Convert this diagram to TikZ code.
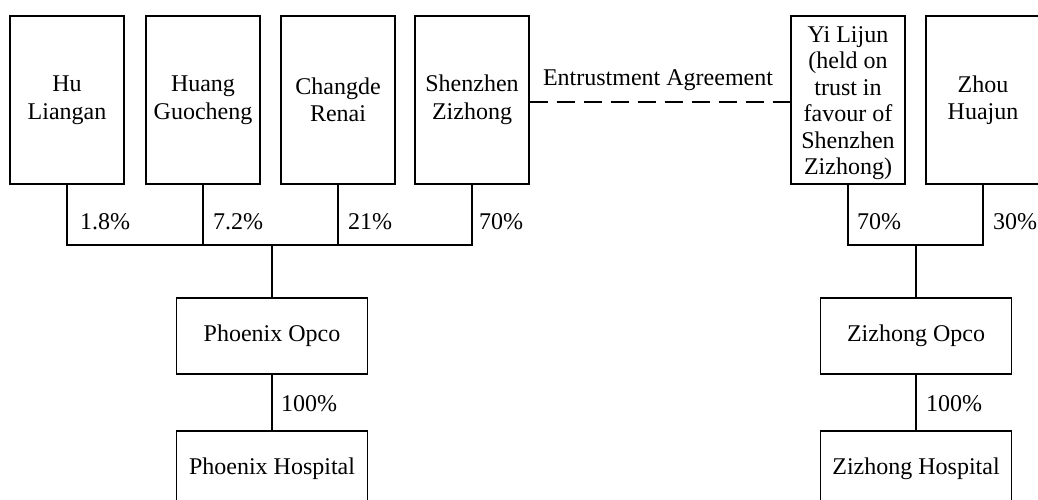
\documentclass[tikz,border=0pt]{standalone}
\usepackage{fontspec}
\setmainfont{Liberation Serif}
\begin{document}
\begin{tikzpicture}[x=1pt,y=1pt,
  every node/.style={font=\fontsize{24pt}{27.5pt}\selectfont},
  topbox/.style={draw, line width=1.1pt, minimum width=114pt, minimum height=168pt, align=center, inner sep=0pt},
  lowbox/.style={draw, line width=1.1pt, minimum width=191pt, minimum height=76pt, align=center, inner sep=0pt},
  link/.style={line width=1.1pt},
  pct/.style={anchor=west, inner sep=0pt}]
\useasboundingbox (0,0) rectangle (1038,-499);
% top boxes
\node[topbox] (hu) at (67,-100) {Hu\\Liangan};
\node[topbox] (hg) at (203,-100) {Huang\\Guocheng};
\node[topbox] (cr) at (338,-100) {Changde\\Renai};
\node[topbox] (sz) at (472,-100) {Shenzhen\\Zizhong};
\node[topbox] (yi) at (848,-100) {};
\node[align=center, font=\fontsize{24pt}{26.5pt}\selectfont, inner sep=0pt] (yitext) at (848,-103) {Yi Lijun\\(held on\\trust in\\favour of\\Shenzhen\\Zizhong)};
\node[topbox] (zh) at (983,-100) {Zhou\\Huajun};
% lower boxes
\node[lowbox] (po) at (272,-336) {Phoenix Opco};
\node[lowbox] (ph) at (272,-469) {Phoenix Hospital};
\node[lowbox] (zo) at (916,-336) {Zizhong Opco};
\node[lowbox] (zhh) at (916,-469) {Zizhong Hospital};
% bus coordinates
\coordinate (busL) at (272,-245);
\coordinate (busR) at (916,-245);
% left tree
\draw[link] (hu.south) |- (busL);
\draw[link] (hg.south) |- (busL);
\draw[link] (cr.south) |- (busL);
\draw[link] (sz.south) |- (busL);
\draw[link] (busL) -- (po.north);
\draw[link] (po.south) -- (ph.north);
% right tree
\draw[link] (yi.south) |- (busR);
\draw[link] (zh.south) |- (busR);
\draw[link] (busR) -- (zo.north);
\draw[link] (zo.south) -- (zhh.north);
% dashed agreement
\draw[link, dash pattern=on 18pt off 9pt] ([yshift=-2pt]sz.east) -- ([yshift=-2pt]yi.west);
\node (ea) at (658,-80) {Entrustment Agreement};
% percentages
\node[pct] (p1) at (80,-222) {1.8\%};
\node[pct] (p2) at (213,-222) {7.2\%};
\node[pct] (p3) at (348,-222) {21\%};
\node[pct] (p4) at (479,-222) {70\%};
\node[pct] (p5) at (857,-222) {70\%};
\node[pct] (p6) at (993,-222) {30\%};
\node[pct] (p7) at (281,-404) {100\%};
\node[pct] (p8) at (926,-404) {100\%};
\end{tikzpicture}
\end{document}
